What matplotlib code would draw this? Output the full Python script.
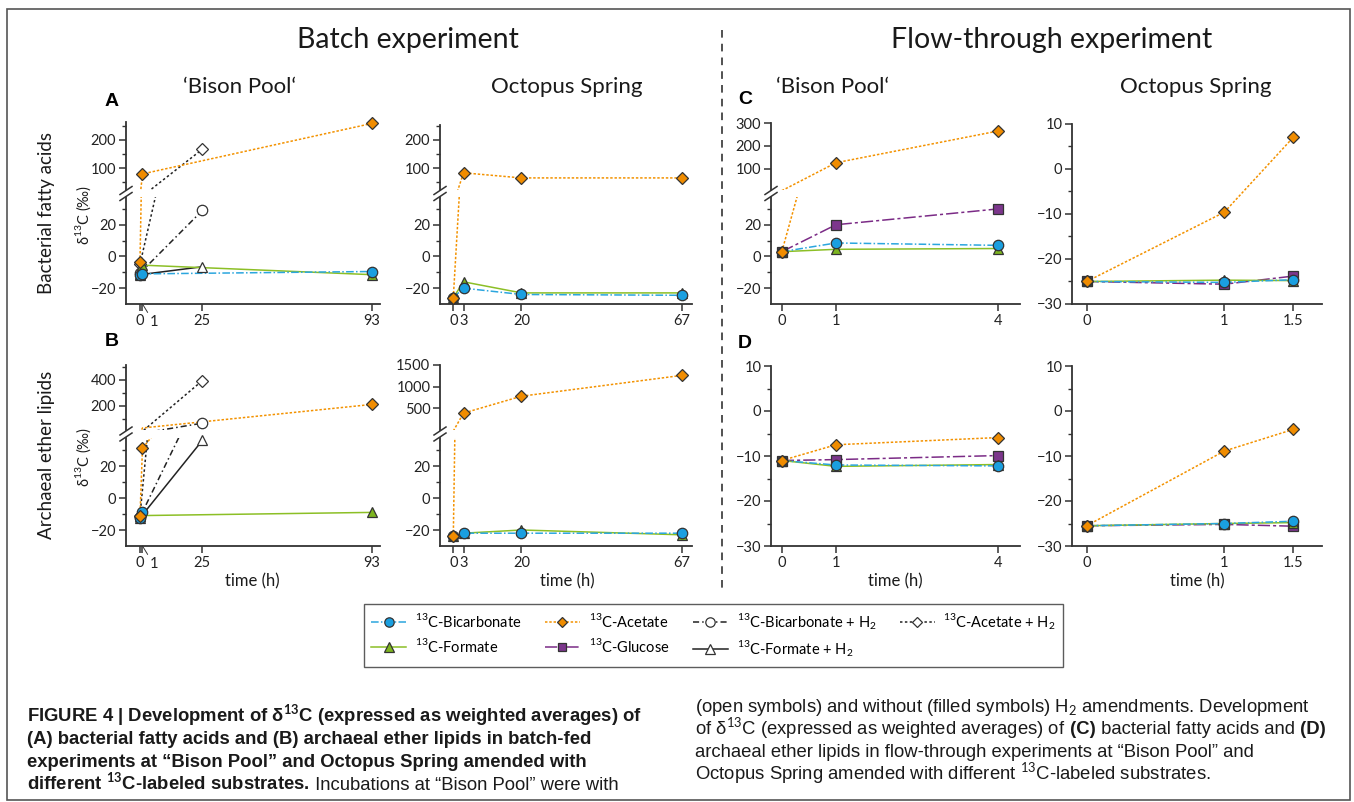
import matplotlib
matplotlib.use("Agg")
import matplotlib.pyplot as plt
from matplotlib.lines import Line2D
from matplotlib.patches import Rectangle

plt.rcParams['font.family'] = ['Lato', 'DejaVu Sans']
plt.rcParams['mathtext.fontset'] = 'custom'
plt.rcParams['mathtext.rm'] = 'Lato'
plt.rcParams['mathtext.bf'] = 'Lato:bold'

# ---------------- data (delta 13C, permil) ----------------
# batch experiment, 'Bison Pool', bacterial fatty acids (A)
a_bp_bic_t, a_bp_bic = [0, 1, 93], [-11.5, -11.0, -9.5]
a_bp_ace_t, a_bp_ace = [0, 1, 93], [-3.5, 80, 258]
a_bp_form_t, a_bp_form = [0, 1, 93], [-11.0, -5.5, -11.5]
a_bp_bich2_t, a_bp_bich2 = [0, 25], [-10.5, 29]
a_bp_aceh2_t, a_bp_aceh2 = [0, 25], [-5, 167]
a_bp_formh2_t, a_bp_formh2 = [0, 25], [-11.5, -6.5]

# batch experiment, 'Bison Pool', archaeal ether lipids (B)
b_bp_bic_t, b_bp_bic = [0, 1], [-12.5, -9]
b_bp_ace_t, b_bp_ace = [0, 1, 93], [-11.5, 31, 212]
b_bp_form_t, b_bp_form = [0, 93], [-11, -9]
b_bp_bich2_t, b_bp_bich2 = [0, 25], [-12, 68]
b_bp_aceh2_t, b_bp_aceh2 = [0, 25], [-11, 395]
b_bp_formh2_t, b_bp_formh2 = [0, 25], [-12.5, 36]

# batch experiment, Octopus Spring
t_os_batch = [0, 3, 20, 67]
a_os_bic = [-26, -20, -24, -24.5]
a_os_ace = [-26, 84, 66, 66]
a_os_form = [-26, -16, -23, -23]
b_os_bic = [-24, -22, -22, -22]
b_os_ace = [-24, 390, 780, 1260]
b_os_form = [-24, -22, -20, -23]

# flow-through experiment
t_bp_flow = [0, 1, 4]
t_os_flow = [0, 1, 1.5]
c_bp_bic = [3, 8.5, 7]
c_bp_ace = [3, 126, 266]
c_bp_form = [3, 4.5, 5]
c_bp_glu = [3, 20, 30]
c_os_bic = [-25, -25.2, -24.6]
c_os_ace = [-25, -9.6, 7]
c_os_form = [-25, -24.7, -24.8]
c_os_glu = [-25, -25.6, -23.8]
d_bp_bic = [-11, -12, -12.2]
d_bp_ace = [-11, -7.5, -5.9]
d_bp_form = [-11, -12.3, -11.9]
d_bp_glu = [-11, -10.8, -9.9]
d_os_bic = [-25.5, -25, -24.5]
d_os_ace = [-25.5, -8.9, -4.1]
d_os_form = [-25.5, -25, -24.8]
d_os_glu = [-25.5, -25.2, -25.6]

labels = {
    'bic': r'$^{13}$C-Bicarbonate', 'ace': r'$^{13}$C-Acetate',
    'bich2': r'$^{13}$C-Bicarbonate + H$_2$', 'aceh2': r'$^{13}$C-Acetate + H$_2$',
    'form': r'$^{13}$C-Formate', 'glu': r'$^{13}$C-Glucose',
    'formh2': r'$^{13}$C-Formate + H$_2$',
}

# ---------------- styles ----------------
EDGE = '#333333'
STY = {
    'bic': dict(color='#2ba6de', ls=(0, (5, 1.5, 1, 1.5)), marker='o', mfc='#1a9fe0', ms=7.5, z=5),
    'ace': dict(color='#f39200', ls=(0, (1.6, 1.2)), marker='D', mfc='#f08c00', ms=5.8, z=6),
    'form': dict(color='#8cbf26', ls='-', marker='^', mfc='#7db51f', ms=7.5, z=4),
    'glu': dict(color='#7b2b86', ls=(0, (8, 2, 2, 2)), marker='s', mfc='#7c368c', ms=7, z=3),
    'bich2': dict(color='#222222', ls=(0, (4, 2, 1, 2)), marker='o', mfc='white', ms=7.5, z=2),
    'aceh2': dict(color='#222222', ls=(0, (1.6, 1.6)), marker='D', mfc='white', ms=5.8, z=2),
    'formh2': dict(color='#222222', ls='-', marker='^', mfc='white', ms=7.5, z=2),
}

W, H = 1354, 802
fig = plt.figure(figsize=(W / 100, H / 100), dpi=100)


def px_axes(x0, y0, x1, y1):
    return fig.add_axes([x0 / W, 1 - y1 / H, (x1 - x0) / W, (y1 - y0) / H])


def ftext(x, y, s, **kw):
    return fig.text(x / W, 1 - y / H, s, **kw)


def style_ax(ax, bottom=True):
    for side in ['top', 'right']:
        ax.spines[side].set_visible(False)
    ax.spines['left'].set_color(EDGE)
    ax.spines['left'].set_linewidth(1.3)
    ax.spines['bottom'].set_color(EDGE)
    ax.spines['bottom'].set_linewidth(1.3)
    ax.patch.set_alpha(0)
    ax.tick_params(direction='out', length=5, width=1.1, colors=EDGE, labelsize=10.5,
                   labelcolor='#222222', pad=2)
    ax.tick_params(which='minor', direction='out', length=3, width=1.0, colors=EDGE)
    if not bottom:
        ax.spines['bottom'].set_visible(False)
        ax.tick_params(axis='x', which='both', bottom=False, labelbottom=False)


def plot_series(ax, t, y, key, lo, hi):
    st = STY[key]
    ax.plot(t, y, color=st['color'], ls=st['ls'], lw=1.1, zorder=st['z'])
    pts = [(a, b) for a, b in zip(t, y) if lo <= b <= hi]
    if pts:
        ax.plot([p[0] for p in pts], [p[1] for p in pts], ls='none', marker=st['marker'],
                ms=st['ms'], mfc=st['mfc'], mec=EDGE, mew=0.9, zorder=st['z'] + 10,
                clip_on=False)


LO = (-30, 37.5)


def lower_ticks(ax):
    ax.set_ylim(*LO)
    ax.set_yticks([-20, 0, 20])
    ax.set_yticks([-10, 10, 30], minor=True)


def break_marks(x, y_up, y_lo):
    ym = (y_up + y_lo) / 2
    for d in (-3, 3):
        fig.add_artist(Line2D([(x - 6) / W, (x + 6) / W],
                              [1 - (ym + d + 4) / H, 1 - (ym + d - 4) / H],
                              color=EDGE, lw=1.1))


def broken_panel(xs, ylo_px, yup_px, xlim, ylim_up, series, up_major, up_minor):
    ax_lo = px_axes(xs[0], ylo_px[0], xs[1], ylo_px[1])
    ax_up = px_axes(xs[0], yup_px[0], xs[1], yup_px[1])
    style_ax(ax_lo)
    style_ax(ax_up, bottom=False)
    for ax in (ax_lo, ax_up):
        ax.set_xlim(*xlim)
    lower_ticks(ax_lo)
    ax_up.set_ylim(*ylim_up)
    ax_up.set_yticks(up_major)
    ax_up.set_yticks(up_minor, minor=True)
    for t, y, key in series:
        plot_series(ax_lo, t, y, key, *LO)
        if max(y) > LO[1]:
            plot_series(ax_up, t, y, key, max(LO[1], ylim_up[0]), ylim_up[1])
    break_marks(xs[0], yup_px[1], ylo_px[0])
    return ax_lo


def plain_panel(xs, ys, xlim, series):
    ax = px_axes(xs[0], ys[0], xs[1], ys[1])
    style_ax(ax)
    ax.set_xlim(*xlim)
    ax.set_ylim(-30, 10)
    ax.set_yticks([-30, -20, -10, 0, 10])
    ax.set_yticks([-25, -15, -5, 5], minor=True)
    for t, y, key in series:
        plot_series(ax, t, y, key, -30, 10)
    return ax


def bp_batch_xticks(ax):
    ax.set_xticks([0, 1, 25, 93])
    ax.set_xticklabels(['0', '', '25', '93'])
    ax.annotate('1', xy=(1, 0), xycoords=('data', 'axes fraction'), xytext=(5, -16),
                textcoords='offset points', ha='left', va='baseline', fontsize=10.5,
                color='#222222', arrowprops=dict(arrowstyle='-', lw=0.7, color=EDGE,
                                                 shrinkA=0, shrinkB=0),
                annotation_clip=False)


XB = (126, 380)
XO = (440, 692)
XFB = (771, 1020)
XFO = (1072, 1322)

# (A) Bison Pool batch
ax = broken_panel(XB, (197, 304), (122, 190), (-5.6, 96.2), (23.3, 263), [
    (a_bp_formh2_t, a_bp_formh2, 'formh2'), (a_bp_bich2_t, a_bp_bich2, 'bich2'),
    (a_bp_aceh2_t, a_bp_aceh2, 'aceh2'), (a_bp_form_t, a_bp_form, 'form'),
    (a_bp_bic_t, a_bp_bic, 'bic'), (a_bp_ace_t, a_bp_ace, 'ace')],
    [100, 200], [50, 150, 250])
bp_batch_xticks(ax)

# (A) Octopus Spring batch
ax = broken_panel(XO, (197, 304), (125, 190), (-3.9, 70), (23.3, 253), [
    (t_os_batch, a_os_form, 'form'), (t_os_batch, a_os_bic, 'bic'),
    (t_os_batch, a_os_ace, 'ace')], [100, 200], [50, 150, 250])
ax.set_xticks(t_os_batch)

# (B) Bison Pool batch
ax = broken_panel(XB, (438, 546), (365, 430), (-5.6, 96.2), (15.4, 515), [
    (b_bp_formh2_t, b_bp_formh2, 'formh2'), (b_bp_bich2_t, b_bp_bich2, 'bich2'),
    (b_bp_aceh2_t, b_bp_aceh2, 'aceh2'), (b_bp_form_t, b_bp_form, 'form'),
    (b_bp_bic_t, b_bp_bic, 'bic'), (b_bp_ace_t, b_bp_ace, 'ace')],
    [200, 400], [100, 300, 500])
bp_batch_xticks(ax)

# (B) Octopus Spring batch
ax = broken_panel(XO, (438, 546), (365, 430), (-3.9, 70), (0, 1500), [
    (t_os_batch, b_os_form, 'form'), (t_os_batch, b_os_bic, 'bic'),
    (t_os_batch, b_os_ace, 'ace')], [500, 1000, 1500], [])
ax.set_xticks(t_os_batch)

# (C) Bison Pool flow-through
ax = broken_panel(XFB, (197, 304), (123, 190), (-0.2, 4.4), (6, 301), [
    (t_bp_flow, c_bp_glu, 'glu'), (t_bp_flow, c_bp_form, 'form'),
    (t_bp_flow, c_bp_bic, 'bic'), (t_bp_flow, c_bp_ace, 'ace')], [100, 200, 300], [])
ax.set_xticks(t_bp_flow)

# (C) Octopus Spring flow-through
ax = plain_panel(XFO, (124, 304), (-0.107, 1.71), [
    (t_os_flow, c_os_glu, 'glu'), (t_os_flow, c_os_form, 'form'),
    (t_os_flow, c_os_bic, 'bic'), (t_os_flow, c_os_ace, 'ace')])
ax.set_xticks(t_os_flow)
ax.set_xticklabels(['0', '1', '1.5'])

# (D) Bison Pool flow-through
ax = plain_panel(XFB, (366, 546), (-0.2, 4.4), [
    (t_bp_flow, d_bp_glu, 'glu'), (t_bp_flow, d_bp_bic, 'bic'),
    (t_bp_flow, d_bp_form, 'form'), (t_bp_flow, d_bp_ace, 'ace')])
ax.set_xticks(t_bp_flow)

# (D) Octopus Spring flow-through
ax = plain_panel(XFO, (366, 546), (-0.107, 1.71), [
    (t_os_flow, d_os_glu, 'glu'), (t_os_flow, d_os_bic, 'bic'),
    (t_os_flow, d_os_form, 'form'), (t_os_flow, d_os_ace, 'ace')])
ax.set_xticks(t_os_flow)
ax.set_xticklabels(['0', '1', '1.5'])

# ---------------- texts ----------------
TXT = '#1a1a1a'
ftext(408, 40, 'Batch experiment', fontsize=20.5, ha='center', va='center', color=TXT)
ftext(1052, 40, 'Flow-through experiment', fontsize=20.5, ha='center', va='center', color=TXT)
for x, s in [(240, '‘Bison Pool‘'), (567, 'Octopus Spring'),
             (833, '‘Bison Pool‘'), (1196, 'Octopus Spring')]:
    ftext(x, 87, s, fontsize=16, ha='center', va='center', color=TXT)
for x, y, s in [(112, 101, 'A'), (112, 341, 'B'), (745, 99, 'C'), (745, 344, 'D')]:
    ftext(x, y, s, fontsize=14, fontweight='bold', ha='center', va='center',
          family=['Liberation Sans', 'DejaVu Sans'])
ftext(47, 213, 'Bacterial fatty acids', fontsize=13.5, rotation=90, ha='center', va='center', color=TXT)
ftext(47, 455, 'Archaeal ether lipids', fontsize=13.5, rotation=90, ha='center', va='center', color=TXT)
for y in (215, 457):
    ftext(83, y, 'δ$^{13}$C (‰)', fontsize=10.5, rotation=90, ha='center', va='center', color=TXT)
for x in (252, 567, 895, 1197):
    ftext(x, 581, 'time (h)', fontsize=12, ha='center', va='center', color=TXT)

# dashed divider and outer frame
fig.add_artist(Line2D([722 / W, 722 / W], [1 - 30 / H, 1 - 592 / H], color='#222222',
                      lw=1.1, ls=(0, (5, 4))))
fig.add_artist(Rectangle((7 / W, 1 - 800 / H), (1350 - 7) / W, (800 - 9) / H,
                         fill=False, ec='#555555', lw=1.2, transform=fig.transFigure))

# ---------------- legend ----------------
order = ['bic', 'form', 'ace', 'glu', 'bich2', 'formh2', 'aceh2']
handles = []
for k in order:
    st = STY[k]
    handles.append(Line2D([], [], color=st['color'], ls=st['ls'], lw=1.1,
                          marker=st['marker'], ms=st['ms'] * 0.9, mfc=st['mfc'],
                          mec=EDGE, mew=0.9))
leg = fig.legend(handles, [labels[k] for k in order], ncol=4, loc='upper left',
                 bbox_to_anchor=(364 / W, 1 - 604 / H), borderaxespad=0, fontsize=10.5,
                 frameon=True, fancybox=False, edgecolor='#333333', handlelength=2.4,
                 handletextpad=0.6, columnspacing=1.6, borderpad=0.5, labelspacing=0.45)
leg.get_frame().set_linewidth(1.0)

# ---------------- caption ----------------
CAP = ['Liberation Sans', 'DejaVu Sans']
renderer = fig.canvas.get_renderer()


def rich_line(x, y, pieces, size=13.3):
    for s, w in pieces:
        t = ftext(x, y, s, fontsize=size, fontweight=w, family=CAP, va='baseline',
                  ha='left', color='#1a1a1a')
        x += t.get_window_extent(renderer).width


left = [
    [('FIGURE 4 | Development of δ$^{\\mathbf{13}}$C (expressed as weighted averages) of', 'bold')],
    [('(A) bacterial fatty acids and (B) archaeal ether lipids in batch-fed', 'bold')],
    [('experiments at “Bison Pool” and Octopus Spring amended with', 'bold')],
    [('different $^{\\mathbf{13}}$C-labeled substrates.', 'bold'),
     (' Incubations at “Bison Pool” were with', 'normal')],
]
right = [
    [('(open symbols) and without (filled symbols) H$_2$ amendments. Development', 'normal')],
    [('of δ$^{13}$C (expressed as weighted averages) of', 'normal'), (' (C)', 'bold'),
     (' bacterial fatty acids and', 'normal'), (' (D)', 'bold')],
    [('archaeal ether lipids in flow-through experiments at “Bison Pool” and', 'normal')],
    [('Octopus Spring amended with different $^{13}$C-labeled substrates.', 'normal')],
]
for i, pieces in enumerate(left):
    rich_line(27, 722 + i * 22.5, pieces)
for i, pieces in enumerate(right):
    rich_line(695, 712 + i * 22.5, pieces)

fig.savefig('out.png', dpi=100)
